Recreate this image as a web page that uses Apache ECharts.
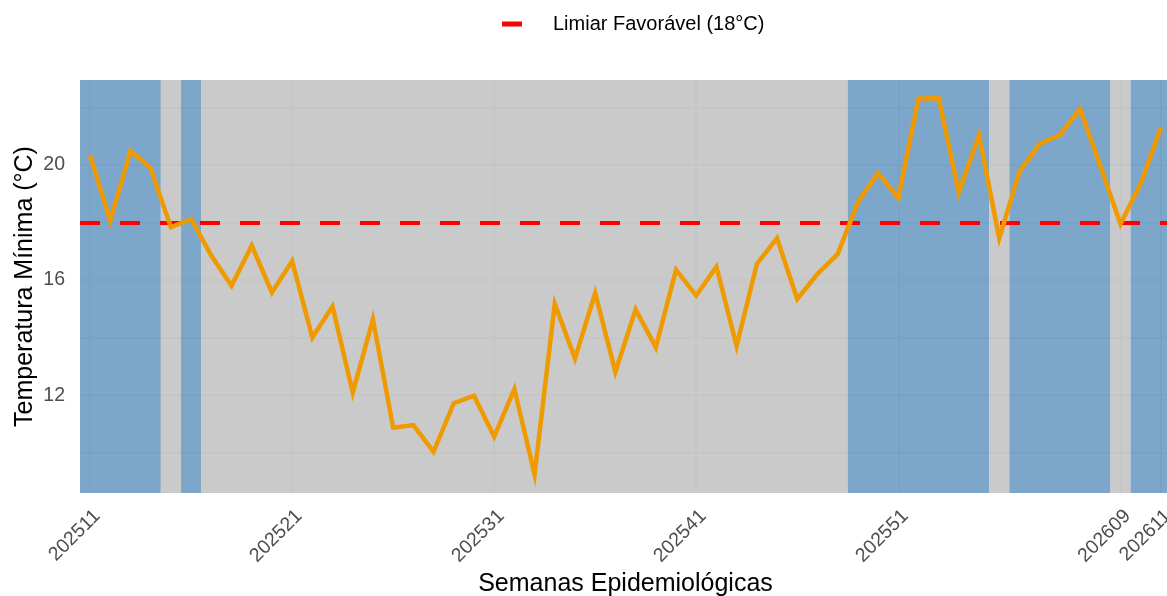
<!DOCTYPE html>
<html>
<head>
<meta charset="utf-8">
<script src="https://cdn.jsdelivr.net/npm/echarts@6/dist/echarts.min.js"></script>
<style>
html,body{margin:0;padding:0;background:#fff;overflow:hidden;}
#chart{width:1167px;height:596px;}
</style>
</head>
<body>
<div id="chart"></div>
<script>
const weeks = ['202511','202512','202513','202514','202515','202516','202517','202518','202519','202520',
  '202521','202522','202523','202524','202525','202526','202527','202528','202529','202530',
  '202531','202532','202533','202534','202535','202536','202537','202538','202539','202540',
  '202541','202542','202543','202544','202545','202546','202547','202548','202549','202550',
  '202551','202552','202553','202601','202602','202603','202604','202605','202606','202607',
  '202608','202609','202610','202611'];
const tempMin = [20.33, 18.06, 20.50, 19.88, 17.83, 18.12, 16.85, 15.80, 17.20, 15.57,
  16.66, 14.00, 15.08, 12.09, 14.64, 10.87, 10.96, 10.03, 11.72, 11.98,
  10.56, 12.21, 9.25, 15.17, 13.27, 15.55, 12.81, 14.98, 13.66, 16.35,
  15.46, 16.46, 13.71, 16.56, 17.45, 15.34, 16.21, 16.90, 18.70, 19.72,
  18.85, 22.30, 22.32, 19.04, 21.04, 17.45, 19.77, 20.73, 21.04, 21.95,
  19.97, 17.95, 19.35, 21.29];
const threshold = 18;
const thresholdName = 'Limiar Favorável (18°C)';
const xTickLabels = ['202511','202521','202531','202541','202551','202609','202611'];
const yTickLabels = [12, 16, 20];
const yGridValues = [10, 12, 14, 16, 18, 20, 22];

const BLUE = 'rgba(70,130,180,0.7)';
const GREY = 'rgba(179,179,179,0.7)';
const FONT = '"Liberation Sans", Arial, Helvetica, sans-serif';

const xTickIdx = xTickLabels.map(w => weeks.indexOf(w));
const lineData = tempMin.map((v, i) => [i, v]);

// favourable / unfavourable runs as background bands
const bands = [];
let start = 0;
for (let i = 1; i <= tempMin.length; i++) {
  const fav = tempMin[start] >= threshold;
  if (i === tempMin.length || (tempMin[i] >= threshold) !== fav) {
    bands.push([
      { xAxis: start - 0.5, itemStyle: { color: fav ? BLUE : GREY } },
      { xAxis: i - 0.5 }
    ]);
    start = i;
  }
}

const chart = echarts.init(document.getElementById('chart'), null, { renderer: 'canvas' });
chart.setOption({
  animation: false,
  backgroundColor: '#ffffff',
  textStyle: { fontFamily: FONT },
  legend: {
    left: 497,
    top: 9,
    data: [{ name: thresholdName, icon: 'rect' }],
    itemWidth: 20,
    itemHeight: 5,
    selectedMode: false,
    textStyle: { fontSize: 20, color: '#000000', fontFamily: FONT, padding: [0, 0, 0, 26] }
  },
  grid: { left: 80, width: 1091, top: 80, height: 413, containLabel: false, outerBoundsMode: 'none' },
  xAxis: {
    type: 'value',
    min: -0.5,
    max: weeks.length - 0.5,
    name: 'Semanas Epidemiológicas',
    nameLocation: 'middle',
    nameGap: 79,
    nameMoveOverlap: false,
    nameTextStyle: { fontSize: 25, color: '#000000', fontFamily: FONT },
    axisLine: { show: false },
    axisTick: { show: false, customValues: xTickIdx },
    axisLabel: {
      customValues: xTickIdx,
      formatter: v => weeks[Math.round(v)],
      rotate: 45,
      margin: 13,
      verticalAlign: 'top',
      hideOverlap: false,
      fontSize: 19.5,
      color: '#4D4D4D',
      fontFamily: FONT
    },
    splitLine: { show: true, lineStyle: { color: '#EBEBEB', width: 1.5 } }
  },
  yAxis: {
    type: 'value',
    min: 8.6,
    max: 22.95,
    name: 'Temperatura Mínima (°C)',
    nameLocation: 'middle',
    nameGap: 42,
    nameMoveOverlap: false,
    nameTextStyle: { fontSize: 25, color: '#000000', fontFamily: FONT },
    axisLine: { show: false },
    axisTick: { show: false, customValues: yGridValues },
    axisLabel: {
      customValues: yTickLabels,
      margin: 15,
      fontSize: 19.5,
      color: '#4D4D4D',
      fontFamily: FONT
    },
    splitLine: { show: true, lineStyle: { color: '#EBEBEB', width: 1.5 } }
  },
  series: [
    {
      name: 'Temperatura Mínima',
      type: 'line',
      data: lineData,
      z: 3,
      symbol: 'none',
      lineStyle: { color: '#EE9A00', width: 4.5, cap: 'butt', join: 'miter' },
      itemStyle: { color: '#EE9A00' },
      silent: true,
      markArea: {
        silent: true,
        z: 1,
        data: bands
      }
    },
    {
      name: thresholdName,
      type: 'line',
      data: [],
      z: 2,
      symbol: 'none',
      itemStyle: { color: '#FF0000' },
      lineStyle: { color: '#FF0000', width: 4, type: [20, 20] },
      markLine: {
        silent: true,
        z: 2,
        symbol: ['none', 'none'],
        label: { show: false },
        lineStyle: { color: '#FF0000', width: 4, type: [20, 20] },
        data: [{ yAxis: threshold }]
      }
    }
  ]
});
</script>
</body>
</html>
